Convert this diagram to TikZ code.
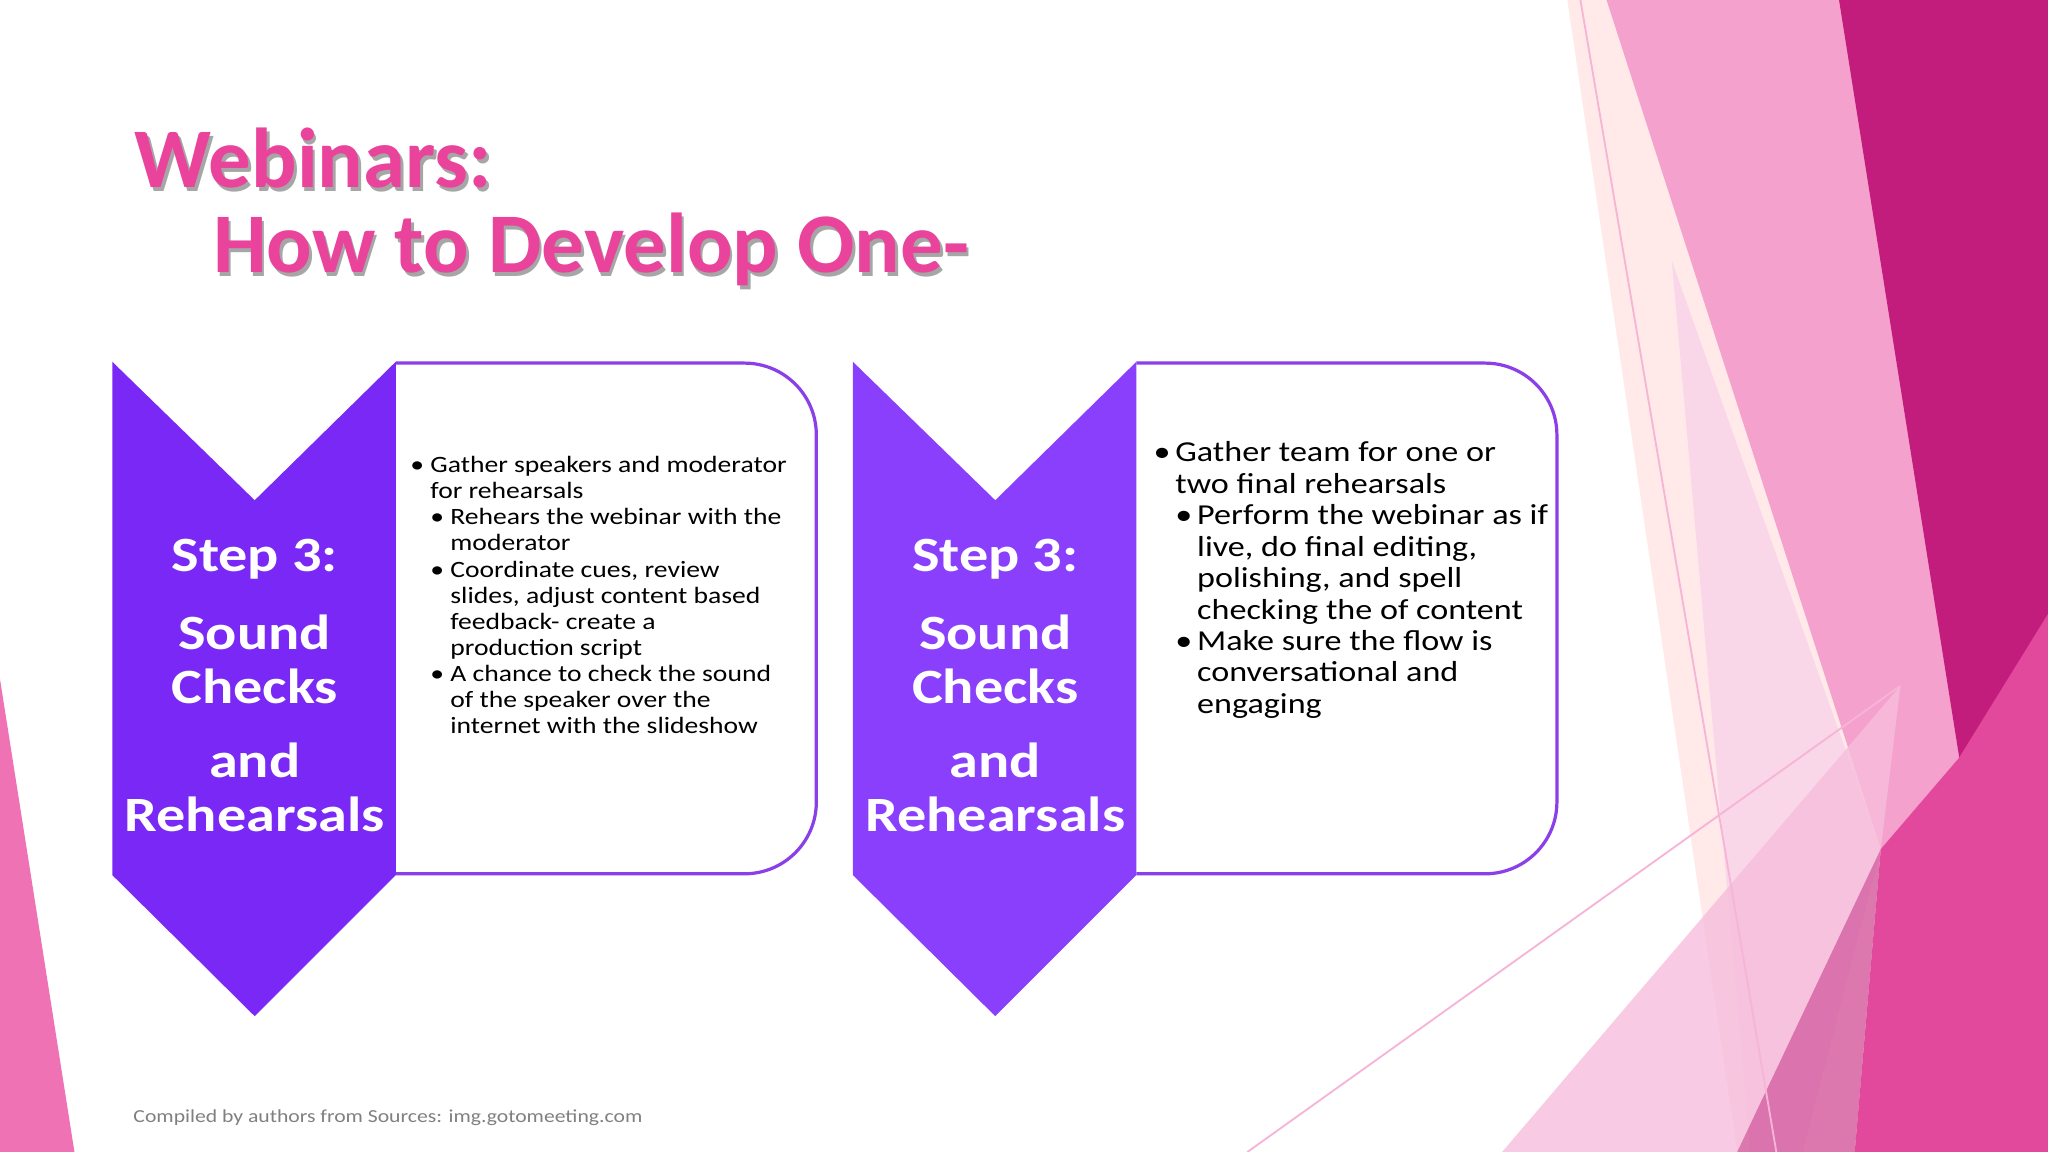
\documentclass[tikz,border=0pt]{standalone}
\usepackage{fontspec}
\setmainfont{Carlito}
\newfontfamily\widefont[FakeStretch=1.18]{Carlito}
\usetikzlibrary{calc}
\definecolor{ttl}{HTML}{E9439B}
\definecolor{pA}{HTML}{7A28F5}
\definecolor{pB}{HTML}{8A3FFC}
\definecolor{edge}{HTML}{8A3FE8}
\definecolor{dark}{HTML}{C21C7C}
\definecolor{mid}{HTML}{E2489C}
\tikzset{
 txtbox/.style={draw=edge,line width=1.4pt,fill=white,rounded corners=1.1cm},
 steplbl/.style={text=white,font=\widefont\fontsize{21.5}{23.5}\selectfont\bfseries,align=center},
 bullets/.style={anchor=north west,align=left,text=black},
 ttlstyle/.style={anchor=west,text=ttl,font=\fontsize{37}{40}\selectfont\bfseries},
}
\begin{document}
\begin{tikzpicture}[x=0.02cm,y=-0.02cm]
\useasboundingbox (0,0) rectangle (1568,882);
\fill[white] (0,0) rectangle (1568,882);
% background decorations
\fill[pink!35] (1200,0) -- (1568,0) -- (1568,882) -- (1330,882) -- cycle;
\fill[ttl!50] (1230,0) -- (1410,0) -- (1500,580) -- (1440,650) -- cycle;
\fill[ttl!22] (1280,200) -- (1440,650) -- (1380,882) -- (1340,882) -- cycle;
\fill[dark] (1408,0) -- (1568,0) -- (1568,882) -- (1490,882) -- (1500,580) -- cycle;
\fill[mid] (1440,650) -- (1500,580) -- (1568,470) -- (1568,882) -- (1420,882) -- cycle;
\fill[ttl!35,opacity=0.8] (1150,882) -- (1455,525) -- (1440,650) -- (1330,882) -- cycle;
\fill[dark!80,opacity=0.7] (1330,882) -- (1440,650) -- (1420,882) -- cycle;
\fill[ttl!75] (0,520) -- (57,882) -- (0,882) -- cycle;
\draw[ttl!40,line width=0.8pt] (1210,0) -- (1360,882);
\draw[ttl!40,line width=0.8pt] (955,882) -- (1455,525);
% title
\node[ttlstyle,text=black!35] at (99,124) {Webinars:};
\node[ttlstyle,text=black!35] at (159,194) {How to Develop One-};
\node[ttlstyle] (t1) at (97,121) {Webinars:};
\node[ttlstyle] (t2) at (157,191) {How to Develop One-};
% left group
\draw[txtbox] (303,278) -- (625,278) -- (625,669) -- (303,669);
\fill[pA] (86,277) -- (195,383) -- (303,277) -- (303,670) -- (195,778) -- (86,670) -- cycle;
\node[steplbl] (s1) at (195,428) {Step 3:};
\node[steplbl] (s1b) at (195,505) {Sound\\Checks};
\node[steplbl] (s1c) at (195,603) {and\\Rehearsals};
\node[bullets,font=\widefont\fontsize{10.2}{11.4}\selectfont] (b1) at (308,343) {%
\textbullet\ Gather speakers and moderator\\
\hphantom{\textbullet\ }for rehearsals\\
\hphantom{\textbullet\ }\textbullet\ Rehears the webinar with the\\
\hphantom{\textbullet\ \textbullet\ }moderator\\
\hphantom{\textbullet\ }\textbullet\ Coordinate cues, review\\
\hphantom{\textbullet\ \textbullet\ }slides, adjust content based\\
\hphantom{\textbullet\ \textbullet\ }feedback- create a\\
\hphantom{\textbullet\ \textbullet\ }production script\\
\hphantom{\textbullet\ }\textbullet\ A chance to check the sound\\
\hphantom{\textbullet\ \textbullet\ }of the speaker over the\\
\hphantom{\textbullet\ \textbullet\ }internet with the slideshow};
% right group
\draw[txtbox] (870,278) -- (1192,278) -- (1192,669) -- (870,669);
\fill[pB] (653,277) -- (762,383) -- (870,277) -- (870,670) -- (762,778) -- (653,670) -- cycle;
\node[steplbl] (s2) at (762,428) {Step 3:};
\node[steplbl] (s2b) at (762,505) {Sound\\Checks};
\node[steplbl] (s2c) at (762,603) {and\\Rehearsals};
\node[bullets,font=\widefont\fontsize{12.6}{13.7}\selectfont] (b2) at (877,332) {%
\textbullet\,Gather team for one or\\
\hphantom{\textbullet\,}two final rehearsals\\
\hphantom{\textbullet\,}\textbullet\,Perform the webinar as if\\
\hphantom{\textbullet\,\textbullet\,}live, do final editing,\\
\hphantom{\textbullet\,\textbullet\,}polishing, and spell\\
\hphantom{\textbullet\,\textbullet\,}checking the of content\\
\hphantom{\textbullet\,}\textbullet\,Make sure the flow is\\
\hphantom{\textbullet\,\textbullet\,}conversational and\\
\hphantom{\textbullet\,\textbullet\,}engaging};
\node[anchor=west,text=gray,font=\widefont\fontsize{8}{9}\selectfont] (f) at (96,856) {Compiled by authors from Sources: img.gotomeeting.com};
\end{tikzpicture}
\end{document}
